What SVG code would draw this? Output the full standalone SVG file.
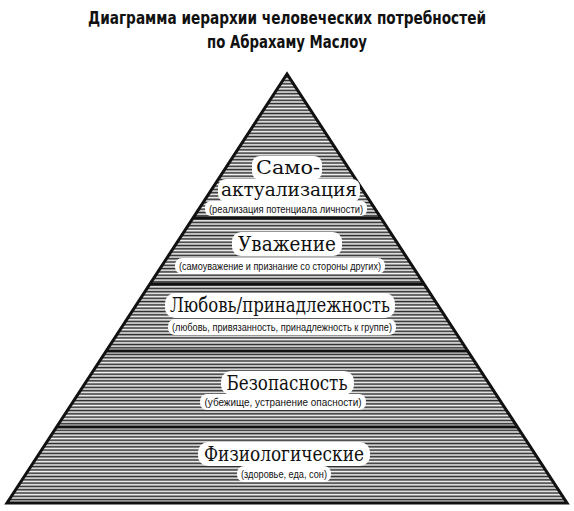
<svg xmlns="http://www.w3.org/2000/svg" width="574" height="511" viewBox="0 0 574 511">
<style>
.title{font-family:"DejaVu Sans Condensed","Liberation Sans",sans-serif;font-weight:bold;font-size:18px;fill:#111;text-anchor:middle}
.head{font-family:"DejaVu Serif","Liberation Serif",serif;font-size:20px;fill:#111;text-anchor:middle}
.h5{font-size:18.5px}
.sub{font-family:"Liberation Sans","DejaVu Sans",sans-serif;font-size:11.5px;fill:#111;text-anchor:middle}
.bg{fill:#fff}
.div{stroke:#111;stroke-width:3;fill:none}
</style>
<defs>
<pattern id="hatch" width="8" height="3.3" patternUnits="userSpaceOnUse">
<rect width="8" height="3.3" fill="#f4f4f4"/>
<rect y="0.5" width="8" height="1.6" fill="#2a2a2a"/>
</pattern>
<clipPath id="tri"><polygon points="287,74 7,503 567,503"/></clipPath>
</defs>
<rect width="574" height="511" fill="#fff"/>
<g id="title">
<text class="title" x="287" y="24" textLength="398" lengthAdjust="spacingAndGlyphs">Диаграмма иерархии человеческих потребностей</text>
<text class="title" x="287" y="48" textLength="160" lengthAdjust="spacingAndGlyphs">по Абрахаму Маслоу</text>
</g>
<g id="pyramid">
<polygon points="287,74 7,503 567,503" fill="url(#hatch)"/>
<g clip-path="url(#tri)">
<line class="div" x1="0" y1="218" x2="574" y2="218"/>
<line class="div" x1="0" y1="284" x2="574" y2="284"/>
<line class="div" x1="0" y1="351" x2="574" y2="351"/>
<line class="div" x1="0" y1="427" x2="574" y2="427"/>
</g>
<polygon points="287,74 7,503 567,503" fill="none" stroke="#111" stroke-width="3" stroke-linejoin="miter"/>
</g>
<g id="level5">
<rect class="bg" x="252" y="156" width="70" height="24" rx="8"/>
<rect class="bg" x="218" y="179" width="142" height="23" rx="8"/>
<rect class="bg" x="205" y="201" width="162" height="15" rx="6"/>
<text class="head h5" x="288" y="174" textLength="64" lengthAdjust="spacingAndGlyphs">Само-</text>
<text class="head h5" x="289" y="196" textLength="136" lengthAdjust="spacingAndGlyphs">актуализация</text>
<text class="sub" x="286" y="213" textLength="154" lengthAdjust="spacingAndGlyphs">(реализация потенциала личности)</text>
</g>
<g id="level4">
<rect class="bg" x="232" y="232" width="110" height="24" rx="9"/>
<rect class="bg" x="175" y="258" width="210" height="16" rx="7"/>
<text class="head" x="287" y="251" textLength="98" lengthAdjust="spacingAndGlyphs">Уважение</text>
<text class="sub" x="280" y="270" textLength="202" lengthAdjust="spacingAndGlyphs">(самоуважение  и признание со стороны других)</text>
</g>
<g id="level3">
<rect class="bg" x="165" y="293" width="230" height="25" rx="10"/>
<rect class="bg" x="168" y="319" width="228" height="16" rx="7"/>
<text class="head" x="280" y="312" textLength="220" lengthAdjust="spacingAndGlyphs">Любовь/принадлежность</text>
<text class="sub" x="282" y="331" textLength="220" lengthAdjust="spacingAndGlyphs">(любовь, привязанность, принадлежность к группе)</text>
</g>
<g id="level2">
<rect class="bg" x="221" y="371" width="133" height="24" rx="10"/>
<rect class="bg" x="200" y="394" width="166" height="16" rx="7"/>
<text class="head" x="287" y="390" textLength="121" lengthAdjust="spacingAndGlyphs">Безопасность</text>
<text class="sub" x="283" y="406" textLength="157" lengthAdjust="spacingAndGlyphs">(убежище, устранение опасности)</text>
</g>
<g id="level1">
<rect class="bg" x="198" y="442" width="172" height="24" rx="10"/>
<rect class="bg" x="237" y="466" width="94" height="16" rx="7"/>
<text class="head" x="284" y="461" textLength="160" lengthAdjust="spacingAndGlyphs">Физиологические</text>
<text class="sub" x="284" y="478" textLength="86" lengthAdjust="spacingAndGlyphs">(здоровье, еда, сон)</text>
</g>
</svg>
